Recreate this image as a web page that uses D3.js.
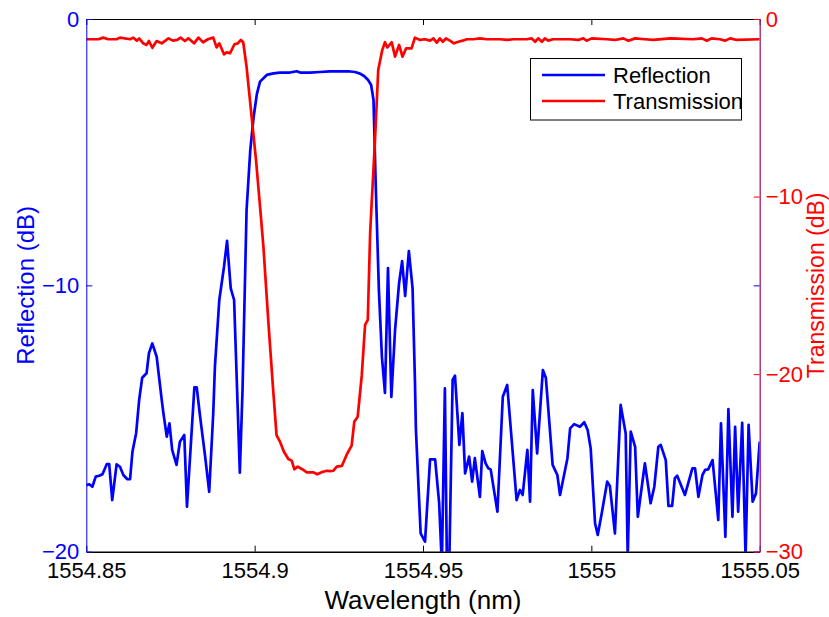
<!DOCTYPE html>
<html><head><meta charset="utf-8">
<script src="https://cdn.jsdelivr.net/npm/d3@7"></script>
<style>
body{margin:0;background:#fff}
svg text{font-family:"Liberation Sans",Arial,Helvetica,sans-serif}
</style>
</head><body>
<svg id="chart" width="829" height="617"></svg>
<script>
// ---- data ----
const reflWavelength = [
1554.8500,1554.8509,1554.8518,1554.8528,1554.8538,1554.8548,1554.8561,1554.8568,1554.8577,1554.8590,
1554.8600,1554.8610,1554.8622,1554.8630,1554.8637,1554.8648,1554.8657,1554.8666,1554.8679,1554.8686,
1554.8696,1554.8709,1554.8724,1554.8729,1554.8739,1554.8747,1554.8755,1554.8768,1554.8778,1554.8791,
1554.8799,1554.8821,1554.8828,1554.8838,1554.8853,1554.8865,1554.8877,1554.8882,1554.8895,1554.8909,
1554.8918,1554.8929,1554.8939,1554.8956,1554.8964,1554.8976,1554.8987,1554.8997,1554.9007,1554.9016,
1554.9036,1554.9056,1554.9075,1554.9105,1554.9125,1554.9135,1554.9164,1554.9194,1554.9224,1554.9253,
1554.9283,1554.9298,1554.9313,1554.9325,1554.9337,1554.9346,1554.9353,1554.9360,1554.9369,1554.9378,
1554.9387,1554.9396,1554.9406,1554.9417,1554.9429,1554.9438,1554.9447,1554.9458,1554.9469,1554.9476,
1554.9479,1554.9493,1554.9506,1554.9521,1554.9536,1554.9548,1554.9556,1554.9565,1554.9571,1554.9578,
1554.9588,1554.9595,1554.9602,1554.9608,1554.9617,1554.9625,1554.9637,1554.9646,1554.9654,1554.9669,
1554.9676,1554.9686,1554.9694,1554.9701,1554.9721,1554.9737,1554.9750,1554.9778,1554.9788,1554.9796,
1554.9810,1554.9818,1554.9826,1554.9839,1554.9856,1554.9865,1554.9885,1554.9899,1554.9907,1554.9929,
1554.9937,1554.9949,1554.9966,1554.9979,1554.9989,1554.9998,1555.0011,1555.0019,1555.0031,1555.0047,
1555.0055,1555.0070,1555.0087,1555.0102,1555.0108,1555.0117,1555.0130,1555.0138,1555.0159,1555.0176,
1555.0187,1555.0199,1555.0206,1555.0221,1555.0229,1555.0240,1555.0248,1555.0255,1555.0278,1555.0300,
1555.0308,1555.0318,1555.0330,1555.0338,1555.0347,1555.0360,1555.0377,1555.0385,1555.0398,1555.0407,
1555.0419,1555.0427,1555.0436,1555.0448,1555.0458,1555.0467,1555.0479,1555.0489,1555.0500
];
const reflectionDb = [
-17.50,-17.47,-17.56,-17.18,-17.15,-17.09,-16.71,-16.71,-18.06,-16.72,
-16.81,-17.12,-17.28,-17.28,-16.25,-15.55,-14.30,-13.47,-13.30,-12.55,
-12.18,-12.68,-14.30,-14.80,-15.68,-15.18,-16.18,-16.74,-15.87,-15.62,
-18.31,-13.83,-13.83,-14.93,-16.43,-17.75,-14.80,-13.05,-10.55,-9.30,
-8.33,-10.11,-10.55,-17.03,-13.93,-7.17,-4.92,-3.67,-2.79,-2.35,
-2.10,-2.04,-2.01,-2.01,-1.96,-2.01,-2.01,-1.99,-1.97,-1.97,
-1.97,-1.99,-2.05,-2.14,-2.29,-2.48,-3.04,-6.42,-10.17,-12.69,
-14.04,-9.35,-14.19,-11.68,-9.91,-9.09,-10.40,-8.71,-10.10,-13.55,
-15.43,-19.31,-19.62,-16.53,-16.53,-18.18,-20.50,-13.87,-20.50,-20.50,
-13.55,-13.39,-14.79,-15.99,-14.80,-17.06,-16.43,-17.37,-16.49,-17.94,
-16.22,-16.68,-16.87,-16.91,-18.50,-14.18,-13.74,-18.06,-17.68,-17.87,
-16.18,-18.12,-13.93,-16.31,-13.18,-13.48,-16.74,-17.12,-17.87,-16.49,
-15.37,-15.21,-15.31,-15.14,-15.43,-16.12,-18.93,-19.37,-18.55,-17.37,
-17.53,-19.31,-14.49,-15.56,-20.20,-15.49,-16.06,-18.69,-16.68,-18.18,
-17.56,-16.06,-15.99,-16.56,-18.28,-18.28,-17.24,-17.15,-17.87,-16.87,
-16.87,-17.94,-17.12,-16.93,-16.91,-16.56,-18.81,-15.18,-19.44,-14.65,
-18.69,-15.31,-18.50,-15.16,-20.20,-15.24,-18.12,-17.81,-15.87
];
const transWavelength = [
1554.8500,1554.8536,1554.8550,1554.8565,1554.8590,1554.8600,1554.8630,1554.8640,1554.8650,1554.8657,
1554.8669,1554.8679,1554.8686,1554.8696,1554.8709,1554.8724,1554.8744,1554.8757,1554.8770,1554.8780,
1554.8793,1554.8803,1554.8820,1554.8833,1554.8847,1554.8861,1554.8877,1554.8887,1554.8895,1554.8909,
1554.8917,1554.8927,1554.8940,1554.8950,1554.8959,1554.8966,1554.8976,1554.8991,1554.9004,1554.9016,
1554.9026,1554.9041,1554.9055,1554.9065,1554.9075,1554.9087,1554.9100,1554.9110,1554.9118,1554.9128,
1554.9140,1554.9155,1554.9174,1554.9186,1554.9199,1554.9214,1554.9224,1554.9234,1554.9244,1554.9259,
1554.9273,1554.9288,1554.9296,1554.9306,1554.9318,1554.9328,1554.9336,1554.9343,1554.9348,1554.9357,
1554.9367,1554.9379,1554.9387,1554.9394,1554.9407,1554.9417,1554.9429,1554.9439,1554.9450,1554.9466,
1554.9476,1554.9491,1554.9506,1554.9521,1554.9531,1554.9541,1554.9550,1554.9559,1554.9568,1554.9580,
1554.9592,1554.9605,1554.9618,1554.9630,1554.9649,1554.9669,1554.9689,1554.9729,1554.9749,1554.9768,
1554.9808,1554.9823,1554.9833,1554.9842,1554.9853,1554.9862,1554.9872,1554.9886,1554.9907,1554.9937,
1554.9961,1554.9976,1554.9986,1555.0001,1555.0046,1555.0070,1555.0095,1555.0110,1555.0130,1555.0159,
1555.0184,1555.0234,1555.0303,1555.0328,1555.0343,1555.0357,1555.0382,1555.0397,1555.0412,1555.0432,
1555.0500
];
const transmissionDb = [
-1.14,-1.14,-1.05,-1.14,-1.14,-1.05,-1.14,-1.05,-1.22,-1.09,
-1.37,-1.46,-1.24,-1.62,-1.24,-1.37,-1.09,-1.22,-1.18,-1.05,
-1.24,-1.09,-1.37,-1.05,-1.31,-1.14,-1.05,-1.60,-1.37,-1.99,
-1.88,-1.93,-1.42,-1.37,-1.18,-1.31,-2.69,-5.50,-7.94,-10.57,
-12.82,-17.14,-20.89,-23.43,-23.80,-24.37,-24.78,-24.87,-25.36,-25.21,
-25.34,-25.53,-25.53,-25.64,-25.53,-25.44,-25.46,-25.44,-25.21,-25.17,
-24.55,-24.03,-22.68,-22.40,-20.10,-17.23,-16.95,-12.07,-10.19,-7.00,
-2.87,-1.75,-1.31,-1.60,-1.31,-2.12,-1.46,-2.12,-1.65,-1.65,
-1.05,-1.18,-1.14,-1.22,-1.09,-1.33,-1.09,-1.28,-1.09,-1.22,
-1.37,-1.28,-1.22,-1.14,-1.14,-1.09,-1.14,-1.14,-1.18,-1.14,
-1.14,-1.09,-1.28,-1.09,-1.28,-1.09,-1.22,-1.14,-1.14,-1.14,
-1.18,-1.09,-1.22,-1.09,-1.14,-1.18,-1.09,-1.22,-1.09,-1.14,
-1.18,-1.09,-1.14,-1.09,-1.22,-1.09,-1.14,-1.22,-1.09,-1.18,
-1.14
];
const xTickValues = [1554.85, 1554.9, 1554.95, 1555, 1555.05];
const xTickLabels = ["1554.85", "1554.9", "1554.95", "1555", "1555.05"];
const leftTickValues = [0, -10, -20];
const rightTickValues = [0, -10, -20, -30];
const seriesNames = ["Reflection", "Transmission"];
const seriesColors = ["#0000ff", "#ff0000"];

// ---- layout ----
const L = 86.3, R = 759.7, T = 19, B = 551.7;
const svg = d3.select("#chart");
const x = d3.scaleLinear().domain([1554.85, 1555.05]).range([L, R]);
const yL = d3.scaleLinear().domain([0, -20]).range([T, B]);
const yR = d3.scaleLinear().domain([0, -30]).range([T, B]);

svg.append("defs").append("clipPath").attr("id", "clip")
  .append("rect").attr("x", L).attr("y", T).attr("width", R - L).attr("height", B - T);

const refl = reflWavelength.map((w, i) => [w, reflectionDb[i]]);
const trans = transWavelength.map((w, i) => [w, transmissionDb[i]]);

const plot = svg.append("g").attr("clip-path", "url(#clip)");
plot.append("path").datum(refl)
  .attr("d", d3.line().x(d => x(d[0])).y(d => yL(d[1])))
  .attr("fill", "none").attr("stroke", seriesColors[0]).attr("stroke-width", 2.7)
  .attr("stroke-linejoin", "round");
plot.append("path").datum(trans)
  .attr("d", d3.line().x(d => x(d[0])).y(d => yR(d[1])))
  .attr("fill", "none").attr("stroke", seriesColors[1]).attr("stroke-width", 2.7)
  .attr("stroke-linejoin", "round");

// ---- axes ----
const fs = 22;
// bottom
const gB = svg.append("g").attr("transform", `translate(0,${B})`)
  .call(d3.axisBottom(x).tickValues(xTickValues).tickSize(-6).tickSizeOuter(0).tickPadding(11)
    .tickFormat((d, i) => xTickLabels[i]));
gB.select(".domain").attr("stroke", "#000").attr("stroke-width", 1.5);
gB.selectAll(".tick line").attr("stroke", "#000");
gB.selectAll("text").attr("font-size", fs).attr("fill", "#000");
// top
const gT = svg.append("g").attr("transform", `translate(0,${T})`)
  .call(d3.axisTop(x).tickValues(xTickValues).tickSize(-6).tickSizeOuter(0).tickFormat(""));
gT.select(".domain").attr("stroke", "#000");
gT.selectAll(".tick line").attr("stroke", "#000");
// left (reflection)
const gL = svg.append("g").attr("transform", `translate(${L},0)`)
  .call(d3.axisLeft(yL).tickValues(leftTickValues).tickSize(-6).tickSizeOuter(0).tickPadding(7));
gL.select(".domain").attr("stroke", seriesColors[0]);
gL.selectAll(".tick line").attr("stroke", seriesColors[0]);
gL.selectAll("text").attr("font-size", fs).attr("fill", seriesColors[0]);
// mirrored left ticks on right side
const gLm = svg.append("g").attr("transform", `translate(${R},0)`)
  .call(d3.axisRight(yL).tickValues(leftTickValues).tickSize(-6).tickSizeOuter(0).tickFormat(""));
gLm.select(".domain").remove();
gLm.selectAll(".tick line").attr("stroke", seriesColors[0]);
// right (transmission)
const gR = svg.append("g").attr("transform", `translate(${R},0)`)
  .call(d3.axisRight(yR).tickValues(rightTickValues).tickSize(-6).tickSizeOuter(0).tickPadding(6));
gR.select(".domain").attr("stroke", "#a61a70").attr("stroke-width", 1.3);
gR.selectAll(".tick line").attr("stroke", seriesColors[1]);
gR.selectAll("text").attr("font-size", fs).attr("fill", seriesColors[1]);

// axis titles
svg.append("text").attr("x", (L + R) / 2).attr("y", 609).attr("text-anchor", "middle")
  .attr("font-size", 26).attr("fill", "#000").text("Wavelength (nm)");
svg.append("text").attr("transform", `translate(34,${(T + B) / 2}) rotate(-90)`)
  .attr("text-anchor", "middle").attr("font-size", 24).attr("fill", seriesColors[0]).text("Reflection (dB)");
svg.append("text").attr("transform", `translate(824,${(T + B) / 2}) rotate(-90)`)
  .attr("text-anchor", "middle").attr("font-size", 23).attr("fill", seriesColors[1]).text("Transmission (dB)");

// legend
const lg = svg.append("g");
lg.append("rect").attr("x", 530.5).attr("y", 58.5).attr("width", 211).attr("height", 61.5)
  .attr("fill", "#fff").attr("stroke", "#000").attr("stroke-width", 1);
seriesNames.forEach((name, i) => {
  const yy = 75 + i * 26;
  lg.append("line").attr("x1", 542).attr("x2", 605).attr("y1", yy).attr("y2", yy)
    .attr("stroke", seriesColors[i]).attr("stroke-width", 2.7);
  lg.append("text").attr("x", 613).attr("y", yy + 8).attr("font-size", 22).attr("fill", "#000").text(name);
});
</script>
</body></html>
